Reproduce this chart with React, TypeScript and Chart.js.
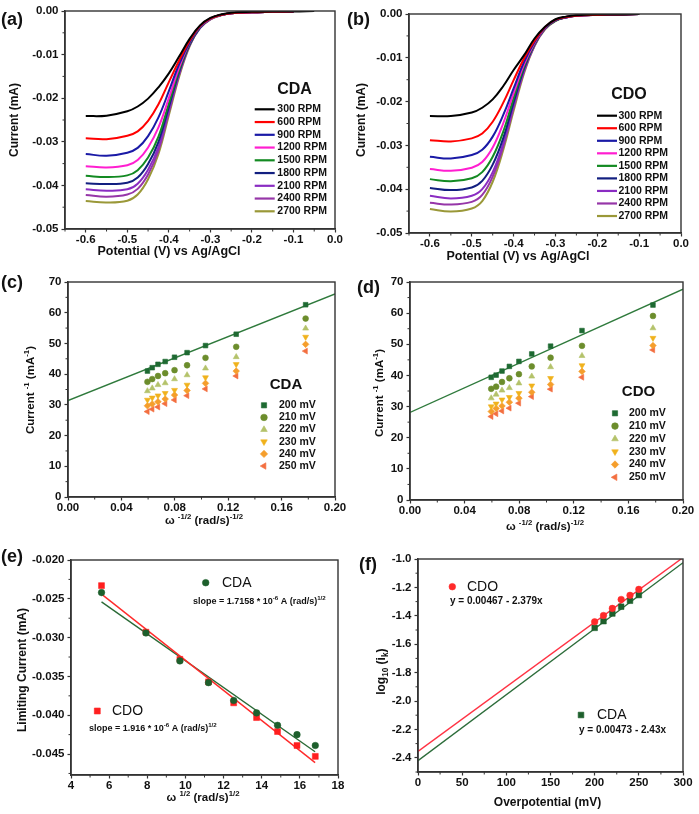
import React, { useEffect, useRef } from "react";
import { Chart, registerables } from "chart.js";
import { drawPoint } from "chart.js/helpers";

Chart.register(...registerables);

const FONT = "'Liberation Sans', Arial, Helvetica, sans-serif";

// ---------------- (a)/(b) LSV curves ----------------
const lsvPotential = [-0.6, -0.55, -0.5, -0.475, -0.45, -0.425, -0.4, -0.375, -0.35, -0.325, -0.3, -0.275, -0.25, -0.2, -0.15, -0.1, -0.05];
const rpmLabels = ["300 RPM", "600 RPM", "900 RPM", "1200 RPM", "1500 RPM", "1800 RPM", "2100 RPM", "2400 RPM", "2700 RPM"];
const rpmColors = ["#000000", "#ff0000", "#1a1aa6", "#ff1ed0", "#138a22", "#121f80", "#8a2cc2", "#9636a8", "#9a9838"];

const cdaLsv = [
  [-0.0241, -0.024, -0.023, -0.0219, -0.0201, -0.0175, -0.0143, -0.0104, -0.0064, -0.0033, -0.0016, -0.0008, -0.0004, -0.0002, -0.0001, -0.0001, 0],
  [-0.0292, -0.0294, -0.0286, -0.0276, -0.0252, -0.0214, -0.0163, -0.0113, -0.0068, -0.0034, -0.0017, -0.0009, -0.0005, -0.0003, -0.0002, -0.0001],
  [-0.0328, -0.0332, -0.0325, -0.0314, -0.0287, -0.0244, -0.0184, -0.0121, -0.0072, -0.0035, -0.0017, -0.0009, -0.0005, -0.0003, -0.0002, -0.0001],
  [-0.0356, -0.0359, -0.0354, -0.0342, -0.0313, -0.0267, -0.02, -0.0129, -0.0073, -0.0036, -0.0018, -0.0009, -0.0005, -0.0003, -0.0002, -0.0001],
  [-0.0378, -0.0381, -0.0377, -0.0365, -0.0336, -0.0288, -0.0212, -0.0135, -0.0075, -0.0037, -0.0018, -0.0009, -0.0005, -0.0003, -0.0002, -0.0001],
  [-0.0395, -0.0397, -0.0394, -0.0382, -0.0351, -0.03, -0.022, -0.0139, -0.0077, -0.0038, -0.0018, -0.0009, -0.0005, -0.0003, -0.0002, -0.0001],
  [-0.0409, -0.0412, -0.0409, -0.0396, -0.0364, -0.0312, -0.0227, -0.0143, -0.0078, -0.0038, -0.0018, -0.0009, -0.0005, -0.0003, -0.0002, -0.0001],
  [-0.0422, -0.0426, -0.0421, -0.0408, -0.0375, -0.032, -0.0233, -0.0146, -0.0079, -0.0039, -0.0019, -0.001, -0.0005, -0.0003, -0.0002, -0.0001],
  [-0.0436, -0.0439, -0.0435, -0.0421, -0.0386, -0.0328, -0.0239, -0.015, -0.0081, -0.0039, -0.0019, -0.001, -0.0005, -0.0003, -0.0002, -0.0001],
];

const cdoLsv = [
  [-0.0233, -0.0233, -0.0225, -0.0214, -0.0195, -0.0165, -0.0128, -0.0094, -0.0056, -0.0029, -0.0012, -0.0006, -0.0003, -0.0001, -0.0001, 0],
  [-0.0288, -0.0291, -0.0284, -0.0273, -0.0246, -0.0203, -0.0151, -0.0101, -0.0061, -0.003, -0.0013, -0.0007, -0.0004, -0.0002, -0.0001, 0],
  [-0.0326, -0.033, -0.0322, -0.031, -0.028, -0.0231, -0.017, -0.0109, -0.0064, -0.0031, -0.0014, -0.0007, -0.0004, -0.0002, -0.0001, 0],
  [-0.0354, -0.0358, -0.0351, -0.0338, -0.0305, -0.025, -0.0181, -0.0115, -0.0066, -0.0032, -0.0014, -0.0007, -0.0004, -0.0002, -0.0001, 0],
  [-0.0377, -0.0382, -0.0375, -0.0361, -0.0326, -0.0269, -0.0192, -0.012, -0.0068, -0.0033, -0.0015, -0.0007, -0.0004, -0.0002, -0.0001, 0],
  [-0.0397, -0.0402, -0.0396, -0.0381, -0.0344, -0.0284, -0.0202, -0.0124, -0.0069, -0.0033, -0.0015, -0.0008, -0.0004, -0.0002, -0.0001, 0],
  [-0.0415, -0.0421, -0.0415, -0.04, -0.0361, -0.0296, -0.0209, -0.0128, -0.0071, -0.0034, -0.0015, -0.0008, -0.0004, -0.0002, -0.0001, 0],
  [-0.0431, -0.0435, -0.0429, -0.0413, -0.0371, -0.0303, -0.0214, -0.0131, -0.0072, -0.0034, -0.0015, -0.0008, -0.0004, -0.0002, -0.0001, 0],
  [-0.0445, -0.0451, -0.0444, -0.0427, -0.0383, -0.0311, -0.0221, -0.0135, -0.0073, -0.0035, -0.0016, -0.0008, -0.0004, -0.0002, -0.0001, 0],
];

const lsvXTicks = [-0.6, -0.5, -0.4, -0.3, -0.2, -0.1, 0];
const lsvXMinor = [-0.65, -0.55, -0.45, -0.35, -0.25, -0.15, -0.05];
const lsvYTicks = [0, -0.01, -0.02, -0.03, -0.04, -0.05];
const lsvYMinor = [-0.005, -0.015, -0.025, -0.035, -0.045];

// ---------------- (c)/(d) Koutecky-Levich ----------------
const invSqrtOmega = [0.0595, 0.0631, 0.0674, 0.0728, 0.0798, 0.0892, 0.103, 0.126, 0.178];
const overLabels = ["200 mV", "210 mV", "220 mV", "230 mV", "240 mV", "250 mV"];
const overStyles = ["rect", "circle", "triangle", "triangle", "rectRot", "triangle"];
const overRotations = [0, 0, 0, 180, 0, 270];
const overRadii = [3.3, 2.9, 3.4, 3.4, 3.3, 3.4];
const overColors = ["#1e6a32", "#6c8d2c", "#b4c26a", "#f0b21c", "#f59e2c", "#f36f40"];

const kCda = [
  [41.0, 42.1, 43.2, 44.1, 45.5, 47.0, 49.3, 53.0, 62.6],
  [37.5, 38.4, 39.4, 40.3, 41.3, 42.9, 45.3, 48.9, 58.1],
  [34.5, 35.4, 36.5, 37.1, 38.4, 39.7, 41.9, 45.6, 54.9],
  [31.6, 32.3, 33.0, 33.8, 34.8, 36.5, 38.9, 43.2, 52.1],
  [29.7, 30.3, 31.0, 31.9, 33.2, 34.7, 37.0, 41.0, 49.7],
  [27.8, 28.6, 29.3, 30.4, 31.6, 33.0, 35.2, 39.4, 47.5],
];
const kCdo = [
  [39.4, 40.1, 41.4, 42.9, 44.5, 46.9, 49.4, 54.4, 62.6],
  [35.7, 36.4, 37.9, 39.1, 40.4, 42.9, 45.7, 49.5, 59.1],
  [32.7, 33.9, 35.2, 36.0, 37.5, 39.7, 42.7, 46.3, 55.2],
  [30.0, 30.9, 32.2, 33.0, 34.3, 36.7, 39.1, 43.2, 52.0],
  [28.4, 29.4, 30.2, 31.4, 32.7, 34.6, 37.1, 41.3, 49.6],
  [26.8, 27.7, 28.6, 29.5, 31.1, 33.2, 35.6, 39.4, 48.2],
];
const klFitX = [0, 0.2];
const klFitCda = [31.4, 66.1];
const klFitCdo = [28.1, 67.7];
const klXTicks = [0, 0.04, 0.08, 0.12, 0.16, 0.2];
const klXMinor = [0.02, 0.06, 0.1, 0.14, 0.18];
const klYTicks = [0, 10, 20, 30, 40, 50, 60, 70];
const klYMinor = [5, 15, 25, 35, 45, 55, 65];

// ---------------- (e) Levich ----------------
const sqrtOmega = [5.6, 7.93, 9.71, 11.21, 12.53, 13.73, 14.83, 15.85, 16.81];
const levCda = [-0.0242, -0.0294, -0.033, -0.0358, -0.0381, -0.0397, -0.0413, -0.0425, -0.0439];
const levCdo = [-0.0233, -0.0293, -0.0328, -0.0357, -0.0384, -0.0403, -0.0421, -0.0439, -0.0453];
const levFitX = [5.6, 16.8];
const levFitCda = [-0.0254, -0.0447];
const levFitCdo = [-0.0244, -0.0461];
const levXTicks = [4, 6, 8, 10, 12, 14, 16, 18];
const levXMinor = [5, 7, 9, 11, 13, 15, 17];
const levYTicks = [-0.02, -0.025, -0.03, -0.035, -0.04, -0.045];
const levYMinor = [-0.0225, -0.0275, -0.0325, -0.0375, -0.0425, -0.0475];

// ---------------- (f) Tafel ----------------
const overPot = [200, 210, 220, 230, 240, 250];
const tafCdo = [-1.442, -1.398, -1.348, -1.285, -1.256, -1.214];
const tafCda = [-1.485, -1.438, -1.384, -1.336, -1.294, -1.254];
const tafFitX = [0, 300];
const tafFitCdo = [-2.355, -0.99];
const tafFitCda = [-2.42, -1.026];
const tafXTicks = [0, 50, 100, 150, 200, 250, 300];
const tafXMinor = [25, 75, 125, 175, 225, 275];
const tafYTicks = [-1.0, -1.2, -1.4, -1.6, -1.8, -2.0, -2.2, -2.4];
const tafYMinor = [-1.1, -1.3, -1.5, -1.7, -1.9, -2.1, -2.3, -2.5];

const slopeCda = "slope = 1.7158 * 10";
const slopeCdo = "slope = 1.916 * 10";
const eqCdo = "y = 0.00467 - 2.379x";
const eqCda = "y = 0.00473 - 2.43x";

const GREEN = "#1d5f2c";
const RED = "#ff1f1f";

// ---------------- drawing helpers ----------------
type Seg = { t: string; s?: "sup" | "sub" };

function rich(ctx: CanvasRenderingContext2D, segs: Seg[], x: number, y: number, size: number, o: { bold?: boolean; align?: "left" | "center"; rotate?: boolean; color?: string } = {}) {
  const w = o.bold === false ? "normal" : "bold";
  const big = `${w} ${size}px ${FONT}`;
  const small = `${w} ${(size * 0.68).toFixed(1)}px ${FONT}`;
  ctx.save();
  ctx.translate(x, y);
  if (o.rotate) ctx.rotate(-Math.PI / 2);
  ctx.fillStyle = o.color || "#111";
  ctx.textBaseline = "middle";
  ctx.textAlign = "left";
  let total = 0;
  const widths = segs.map((sg) => {
    ctx.font = sg.s ? small : big;
    const m = ctx.measureText(sg.t).width;
    total += m;
    return m;
  });
  let cx = o.align === "left" ? 0 : -total / 2;
  segs.forEach((sg, i) => {
    ctx.font = sg.s ? small : big;
    const dy = sg.s === "sup" ? -size * 0.36 : sg.s === "sub" ? size * 0.3 : 0;
    ctx.fillText(sg.t, cx, dy);
    cx += widths[i];
  });
  ctx.restore();
}

function marker(ctx: CanvasRenderingContext2D, style: string, rotation: number, r: number, x: number, y: number, color: string) {
  ctx.save();
  ctx.fillStyle = color;
  ctx.strokeStyle = color;
  ctx.lineWidth = 0.6;
  drawPoint(ctx, { pointStyle: style as any, rotation, radius: r, borderWidth: 0.6 }, x, y);
  ctx.restore();
}

function panelLabel(ctx: CanvasRenderingContext2D, text: string, x: number, y: number) {
  rich(ctx, [{ t: text }], x, y, 18, { align: "left" });
}

function lineLegend(ctx: CanvasRenderingContext2D, title: string, tx: number, ty: number, x0: number, x1: number, textX: number, y0: number, dy: number) {
  rich(ctx, [{ t: title }], tx, ty, 16);
  rpmLabels.forEach((lab, i) => {
    const y = y0 + i * dy;
    ctx.save();
    ctx.strokeStyle = rpmColors[i];
    ctx.lineWidth = 2.2;
    ctx.beginPath();
    ctx.moveTo(x0, y);
    ctx.lineTo(x1, y);
    ctx.stroke();
    ctx.restore();
    rich(ctx, [{ t: lab }], textX, y, 10.5, { align: "left" });
  });
}

function markerLegend(ctx: CanvasRenderingContext2D, title: string, tx: number, ty: number, mx: number, textX: number, y0: number, dy: number) {
  rich(ctx, [{ t: title }], tx, ty, 15);
  overLabels.forEach((lab, i) => {
    const y = y0 + i * dy;
    marker(ctx, overStyles[i], overRotations[i], overRadii[i] + 0.4, mx, y, overColors[i]);
    rich(ctx, [{ t: lab }], textX, y, 10.5, { align: "left" });
  });
}

// ---------------- dataset builders ----------------
function lsvDatasets(curves: number[][]) {
  return curves.map((vals, i) => ({
    label: rpmLabels[i],
    data: vals.map((y, j) => ({ x: lsvPotential[j], y })),
    showLine: true,
    borderColor: rpmColors[i],
    backgroundColor: rpmColors[i],
    borderWidth: 2,
    pointRadius: 0,
    tension: 0.4,
    fill: false,
  }));
}

function klDatasets(series: number[][], fit: number[]) {
  const pts = series.map((vals, i) => ({
    label: overLabels[i],
    data: vals.map((y, j) => ({ x: invSqrtOmega[j], y })),
    pointStyle: overStyles[i],
    rotation: overRotations[i],
    pointRadius: overRadii[i],
    backgroundColor: overColors[i],
    borderColor: overColors[i],
    pointBorderWidth: 0.6,
    showLine: false,
  }));
  return [
    ...pts,
    {
      label: "fit",
      data: fit.map((y, j) => ({ x: klFitX[j], y })),
      showLine: true,
      borderColor: "#2f7a3c",
      borderWidth: 1.3,
      pointRadius: 0,
    },
  ];
}

function fitLine(xs: number[], ys: number[], color: string) {
  return { label: "fit", data: ys.map((y, j) => ({ x: xs[j], y })), showLine: true, borderColor: color, borderWidth: 1.4, pointRadius: 0 };
}

function pts(xs: number[], ys: number[], style: string, r: number, color: string, label: string) {
  return { label, data: ys.map((y, j) => ({ x: xs[j], y })), showLine: false, pointStyle: style, pointRadius: r, backgroundColor: color, borderColor: color, pointBorderWidth: 0.5 };
}

type Axis = { min: number; max: number; ticks: number[]; minor: number[]; fmt: (v: number) => string };
type Spec = {
  id: string;
  box: { x: number; y: number; w: number; h: number };
  area: { l: number; t: number; r: number; b: number };
  xAxis: Axis;
  yAxis: Axis;
  datasets: any[];
  decor: (ctx: CanvasRenderingContext2D) => void;
};

const lsvX: Axis = { min: -0.65, max: 0, ticks: lsvXTicks, minor: lsvXMinor, fmt: (v) => v.toFixed(1) };
const lsvY: Axis = { min: -0.05, max: 0, ticks: lsvYTicks, minor: lsvYMinor, fmt: (v) => (Math.abs(v) < 1e-9 ? "0.00" : v.toFixed(2)) };
const klX: Axis = { min: 0, max: 0.2, ticks: klXTicks, minor: klXMinor, fmt: (v) => v.toFixed(2) };
const klY: Axis = { min: 0, max: 70, ticks: klYTicks, minor: klYMinor, fmt: (v) => String(Math.round(v)) };

const specs: Spec[] = [
  {
    id: "a",
    box: { x: 0, y: 0, w: 349, h: 270 },
    area: { l: 65, t: 11, r: 335, b: 229 },
    xAxis: lsvX,
    yAxis: lsvY,
    datasets: lsvDatasets(cdaLsv),
    decor: (ctx) => {
      panelLabel(ctx, "(a)", 1, 20);
      rich(ctx, [{ t: "Potential (V) vs Ag/AgCl" }], 169, 252, 12.5);
      rich(ctx, [{ t: "Current (mA)" }], 15, 120, 12, { rotate: true });
      lineLegend(ctx, "CDA", 294.5, 90, 254.7, 274.7, 277.3, 109.3, 12.75);
    },
  },
  {
    id: "b",
    box: { x: 345, y: 0, w: 354, h: 270 },
    area: { l: 409, t: 14, r: 681, b: 233 },
    xAxis: lsvX,
    yAxis: lsvY,
    datasets: lsvDatasets(cdoLsv),
    decor: (ctx) => {
      panelLabel(ctx, "(b)", 347, 20);
      rich(ctx, [{ t: "Potential (V) vs Ag/AgCl" }], 518, 257, 12.5);
      rich(ctx, [{ t: "Current (mA)" }], 361.7, 120, 12, { rotate: true });
      lineLegend(ctx, "CDO", 629, 94.3, 597, 617, 618.5, 115.7, 12.54);
    },
  },
  {
    id: "c",
    box: { x: 0, y: 270, w: 349, h: 270 },
    area: { l: 68, t: 282, r: 335, b: 497 },
    xAxis: klX,
    yAxis: klY,
    datasets: klDatasets(kCda, klFitCda),
    decor: (ctx) => {
      panelLabel(ctx, "(c)", 1, 283.5);
      rich(ctx, [{ t: "ω " }, { t: "-1/2", s: "sup" }, { t: " (rad/s)" }, { t: "-1/2", s: "sup" }], 204, 521, 11.5);
      rich(ctx, [{ t: "Current " }, { t: "-1", s: "sup" }, { t: " (mA" }, { t: "-1", s: "sup" }, { t: ")" }], 30.7, 390, 11.5, { rotate: true });
      markerLegend(ctx, "CDA", 286, 385, 264, 279, 405.3, 12.15);
    },
  },
  {
    id: "d",
    box: { x: 345, y: 270, w: 354, h: 270 },
    area: { l: 410, t: 282, r: 683, b: 500 },
    xAxis: klX,
    yAxis: klY,
    datasets: klDatasets(kCdo, klFitCdo),
    decor: (ctx) => {
      panelLabel(ctx, "(d)", 357, 288.5);
      rich(ctx, [{ t: "ω " }, { t: "-1/2", s: "sup" }, { t: " (rad/s)" }, { t: "-1/2", s: "sup" }], 545, 526.5, 11.5);
      rich(ctx, [{ t: "Current " }, { t: "-1", s: "sup" }, { t: " (mA" }, { t: "-1", s: "sup" }, { t: ")" }], 380, 393, 11.5, { rotate: true });
      markerLegend(ctx, "CDO", 638.5, 391.7, 615, 629, 413.3, 12.8);
    },
  },
  {
    id: "e",
    box: { x: 0, y: 540, w: 349, h: 274 },
    area: { l: 71, t: 560, r: 338, b: 775 },
    xAxis: { min: 4, max: 18, ticks: levXTicks, minor: levXMinor, fmt: (v) => String(Math.round(v)) },
    yAxis: { min: -0.0477, max: -0.02, ticks: levYTicks, minor: levYMinor, fmt: (v) => v.toFixed(3) },
    datasets: [
      pts(sqrtOmega, levCda, "circle", 3.3, GREEN, "CDA"),
      pts(sqrtOmega, levCdo, "rect", 4.2, RED, "CDO"),
      fitLine(levFitX, levFitCdo, "#ff2a2a"),
      fitLine(levFitX, levFitCda, "#2a6a36"),
    ],
    decor: (ctx) => {
      panelLabel(ctx, "(e)", 1, 557.5);
      rich(ctx, [{ t: "ω " }, { t: "1/2", s: "sup" }, { t: " (rad/s)" }, { t: "1/2", s: "sup" }], 203, 798, 11.5);
      rich(ctx, [{ t: "Limiting Current (mA)" }], 22.7, 670, 12, { rotate: true });
      marker(ctx, "circle", 0, 3.3, 205.7, 582.7, GREEN);
      rich(ctx, [{ t: "CDA" }], 222, 583, 14, { align: "left", bold: false });
      rich(ctx, [{ t: slopeCda }, { t: "-6", s: "sup" }, { t: " A (rad/s)" }, { t: "1/2", s: "sup" }], 193, 602, 9, { align: "left" });
      marker(ctx, "rect", 0, 4.2, 97.3, 711, RED);
      rich(ctx, [{ t: "CDO" }], 112, 711, 14, { align: "left", bold: false });
      rich(ctx, [{ t: slopeCdo }, { t: "-6", s: "sup" }, { t: " A (rad/s)" }, { t: "1/2", s: "sup" }], 89, 729, 9, { align: "left" });
    },
  },
  {
    id: "f",
    box: { x: 345, y: 540, w: 354, h: 274 },
    area: { l: 418, t: 559, r: 683, b: 772 },
    xAxis: { min: 0, max: 300, ticks: tafXTicks, minor: tafXMinor, fmt: (v) => String(Math.round(v)) },
    yAxis: { min: -2.5, max: -1.0, ticks: tafYTicks, minor: tafYMinor, fmt: (v) => v.toFixed(1) },
    datasets: [
      pts(overPot, tafCdo, "circle", 3.3, "#ff2a2a", "CDO"),
      pts(overPot, tafCda, "rect", 4.0, GREEN, "CDA"),
      fitLine(tafFitX, tafFitCdo, "#ff3344"),
      fitLine(tafFitX, tafFitCda, "#2d6d3b"),
    ],
    decor: (ctx) => {
      panelLabel(ctx, "(f)", 359, 565.5);
      rich(ctx, [{ t: "Overpotential (mV)" }], 547.5, 803, 12);
      rich(ctx, [{ t: "log" }, { t: "10", s: "sub" }, { t: " (i" }, { t: "k", s: "sub" }, { t: ")" }], 381.7, 671.7, 12, { rotate: true });
      marker(ctx, "circle", 0, 3.3, 452.3, 586.7, "#ff2a2a");
      rich(ctx, [{ t: "CDO" }], 467, 587, 14, { align: "left", bold: false });
      rich(ctx, [{ t: eqCdo }], 450, 601.7, 10, { align: "left" });
      marker(ctx, "rect", 0, 4.0, 581, 715, GREEN);
      rich(ctx, [{ t: "CDA" }], 597, 715, 14, { align: "left", bold: false });
      rich(ctx, [{ t: eqCda }], 579, 730, 10, { align: "left" });
    },
  },
];

function axisOpts(ax: Axis, isX: boolean, size: number) {
  return {
    type: "linear",
    min: ax.min,
    max: ax.max,
    afterBuildTicks: (s: any) => {
      s.ticks = ax.ticks.map((v) => ({ value: v }));
    },
    afterFit: (s: any) => {
      if (isX) s.height = size;
      else s.width = size;
    },
    ticks: {
      autoSkip: false,
      maxRotation: 0,
      minRotation: 0,
      padding: isX ? 0 : 3,
      color: "#111",
      font: { family: FONT, size: 11.5, weight: "bold" },
      callback: (v: any) => ax.fmt(Number(v)),
    },
    grid: { display: true, drawOnChartArea: false, drawTicks: true, tickLength: 3.5, tickWidth: 1.2, tickColor: "#333" },
    border: { display: true, color: "#333", width: 1.5 },
  };
}

function decorPlugin(spec: Spec) {
  return {
    id: "decor" + spec.id,
    afterDraw(chart: any) {
      const ctx: CanvasRenderingContext2D = chart.ctx;
      const { left, top, right, bottom } = chart.chartArea;
      const xs = chart.scales.x;
      const ys = chart.scales.y;
      ctx.save();
      ctx.strokeStyle = "#333";
      ctx.lineWidth = 1.4;
      ctx.strokeRect(left, top, right - left, bottom - top);
      ctx.lineWidth = 1;
      ctx.beginPath();
      spec.xAxis.minor.forEach((v) => {
        const p = xs.getPixelForValue(v);
        ctx.moveTo(p, bottom);
        ctx.lineTo(p, bottom + 2.5);
      });
      spec.yAxis.minor.forEach((v) => {
        const p = ys.getPixelForValue(v);
        ctx.moveTo(left - 2.5, p);
        ctx.lineTo(left, p);
      });
      ctx.stroke();
      ctx.translate(-spec.box.x, -spec.box.y);
      spec.decor(ctx);
      ctx.restore();
    },
  };
}

function buildConfig(spec: Spec): any {
  const { box, area } = spec;
  return {
    type: "scatter",
    data: { datasets: spec.datasets },
    options: {
      animation: false,
      responsive: false,
      maintainAspectRatio: false,
      events: [],
      layout: { padding: { left: 0, top: area.t - box.y, right: box.x + box.w - area.r, bottom: 0 } },
      plugins: { legend: { display: false }, tooltip: { enabled: false } },
      scales: {
        x: axisOpts(spec.xAxis, true, box.y + box.h - area.b),
        y: axisOpts(spec.yAxis, false, area.l - box.x),
      },
    },
    plugins: [decorPlugin(spec)],
  };
}

function PanelCanvas({ spec }: { spec: Spec }) {
  const ref = useRef<HTMLCanvasElement>(null);
  useEffect(() => {
    if (!ref.current) return;
    const chart = new Chart(ref.current, buildConfig(spec));
    return () => chart.destroy();
  }, [spec]);
  return (
    <canvas
      ref={ref}
      width={spec.box.w}
      height={spec.box.h}
      style={{ position: "absolute", left: spec.box.x, top: spec.box.y, width: spec.box.w, height: spec.box.h }}
    />
  );
}

export default function App() {
  return (
    <div style={{ position: "absolute", left: 0, top: 0, width: 699, height: 814, background: "#fff", overflow: "hidden" }}>
      {specs.map((s) => (
        <PanelCanvas key={s.id} spec={s} />
      ))}
    </div>
  );
}
